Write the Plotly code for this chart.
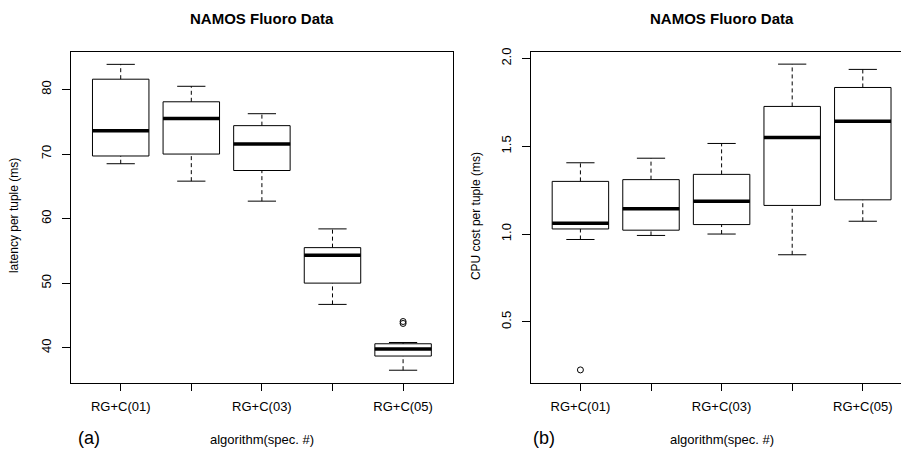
import plotly.graph_objects as go

# ---------------- data ----------------
categories = ["RG+C(01)", "RG+C(02)", "RG+C(03)", "RG+C(04)", "RG+C(05)"]
positions = [1, 2, 3, 4, 5]
shown_labels = ["RG+C(01)", "", "RG+C(03)", "", "RG+C(05)"]

lat_low = [68.5, 65.8, 62.7, 46.7, 36.5]
lat_q1 = [69.7, 70.0, 67.45, 50.0, 38.7]
lat_med = [73.6, 75.5, 71.55, 54.3, 39.8]
lat_q3 = [81.6, 78.1, 74.4, 55.5, 40.6]
lat_high = [83.9, 80.5, 76.25, 58.4, 40.8]
lat_out_x = [5, 5]
lat_out_y = [44.05, 43.75]

cpu_low = [0.969, 0.992, 1.0, 0.882, 1.073]
cpu_q1 = [1.029, 1.022, 1.054, 1.163, 1.195]
cpu_med = [1.061, 1.144, 1.187, 1.55, 1.643]
cpu_q3 = [1.30, 1.31, 1.34, 1.727, 1.835]
cpu_high = [1.406, 1.432, 1.516, 1.968, 1.938]
cpu_out_x = [1]
cpu_out_y = [0.226]

FONT = "Liberation Sans, Arial, Helvetica, sans-serif"
W, H = 901, 452
BOXW = 0.8
CAPW = 0.4


def add_panel(fig, low, q1, med, q3, high, ox, oy, xa, ya):
    fig.add_trace(go.Box(
        x=positions, q1=q1, median=med, q3=q3, lowerfence=q1, upperfence=q3,
        width=BOXW, whiskerwidth=0, fillcolor="white",
        line=dict(color="black", width=1), boxpoints=False,
        xaxis=xa, yaxis=ya, hoverinfo="skip"))
    # dashed whiskers
    wx, wy = [], []
    for p, lo, a, b, hi in zip(positions, low, q1, q3, high):
        wx += [p, p, None, p, p, None]
        wy += [b, hi, None, lo, a, None]
    fig.add_trace(go.Scatter(x=wx, y=wy, mode="lines",
                             line=dict(color="black", width=1, dash="4px,3px"),
                             xaxis=xa, yaxis=ya, hoverinfo="skip"))
    # staples
    cx, cy = [], []
    for p, lo, hi in zip(positions, low, high):
        cx += [p - CAPW / 2, p + CAPW / 2, None, p - CAPW / 2, p + CAPW / 2, None]
        cy += [hi, hi, None, lo, lo, None]
    fig.add_trace(go.Scatter(x=cx, y=cy, mode="lines",
                             line=dict(color="black", width=1),
                             xaxis=xa, yaxis=ya, hoverinfo="skip"))
    # thick medians
    mx, my = [], []
    for p, m in zip(positions, med):
        mx += [p - BOXW / 2, p + BOXW / 2, None]
        my += [m, m, None]
    fig.add_trace(go.Scatter(x=mx, y=my, mode="lines",
                             line=dict(color="black", width=3.5),
                             xaxis=xa, yaxis=ya, hoverinfo="skip"))
    # outliers
    fig.add_trace(go.Scatter(x=ox, y=oy, mode="markers",
                             marker=dict(symbol="circle-open", size=6,
                                         color="black", line=dict(width=1)),
                             xaxis=xa, yaxis=ya, hoverinfo="skip"))


fig = go.Figure()
add_panel(fig, lat_low, lat_q1, lat_med, lat_q3, lat_high, lat_out_x, lat_out_y, "x", "y")
add_panel(fig, cpu_low, cpu_q1, cpu_med, cpu_q3, cpu_high, cpu_out_x, cpu_out_y, "x2", "y2")

ydom = [1 - 382 / H, 1 - 48 / H]
px_per_unit = (452.5 - 71.3) / 5.4

common_x = dict(tickmode="array", tickvals=positions, ticktext=shown_labels,
                ticks="outside", ticklen=7, tickcolor="black", tickwidth=1,
                ticklabelstandoff=5,
                showline=True, linecolor="black", linewidth=1,
                showgrid=False, zeroline=False,
                tickfont=dict(family=FONT, size=13, color="black"))
common_y = dict(ticks="outside", ticklen=8, tickcolor="black", tickwidth=1,
                ticklabelstandoff=6,
                showline=True, linecolor="black", linewidth=1,
                showgrid=False, zeroline=False, tickangle=-90,
                tickfont=dict(family=FONT, size=13, color="black"))

fig.update_layout(
    width=W, height=H, autosize=False,
    margin=dict(l=0, r=0, t=0, b=0),
    paper_bgcolor="white", plot_bgcolor="white",
    showlegend=False,
    xaxis=dict(domain=[71.3 / W, 452.5 / W], range=[0.3, 5.7], mirror=True,
               anchor="y", **common_x),
    yaxis=dict(domain=ydom, range=[34.58, 85.88], mirror=True, anchor="x",
               tickvals=[40, 50, 60, 70, 80], **common_y),
    xaxis2=dict(domain=[531 / W, 1.0],
                range=[0.3, 0.3 + (W - 531) / px_per_unit], mirror=True,
                anchor="y2", **common_x),
    yaxis2=dict(domain=ydom, range=[0.1536, 2.0395], mirror=False, anchor="x2",
                tickvals=[0.5, 1.0, 1.5, 2.0], ticktext=["0.5", "1.0", "1.5", "2.0"],
                **common_y),
)

def ann(text, x, y, size, bold=False, angle=0):
    fig.add_annotation(text=f"<b>{text}</b>" if bold else text,
                       x=x / W, y=1 - y / H, xref="paper", yref="paper",
                       showarrow=False, textangle=angle,
                       font=dict(family=FONT, size=size, color="black"),
                       xanchor="center", yanchor="middle")

ann("NAMOS Fluoro Data", 262, 15, 15, bold=True)
ann("NAMOS Fluoro Data", 722, 15, 15, bold=True)
ann("algorithm(spec. #)", 262, 439, 13)
ann("algorithm(spec. #)", 722, 439, 13)
ann("latency per tuple (ms)", 14, 214, 12, angle=-90)
ann("CPU cost per tuple (ms)", 476, 214, 12, angle=-90)
ann("(a)", 89, 438, 18)
ann("(b)", 544, 438, 18)

fig.write_html("out.html", config={"displayModeBar": False},
               post_script="document.body.style.margin='0px';document.body.style.overflow='hidden';")
